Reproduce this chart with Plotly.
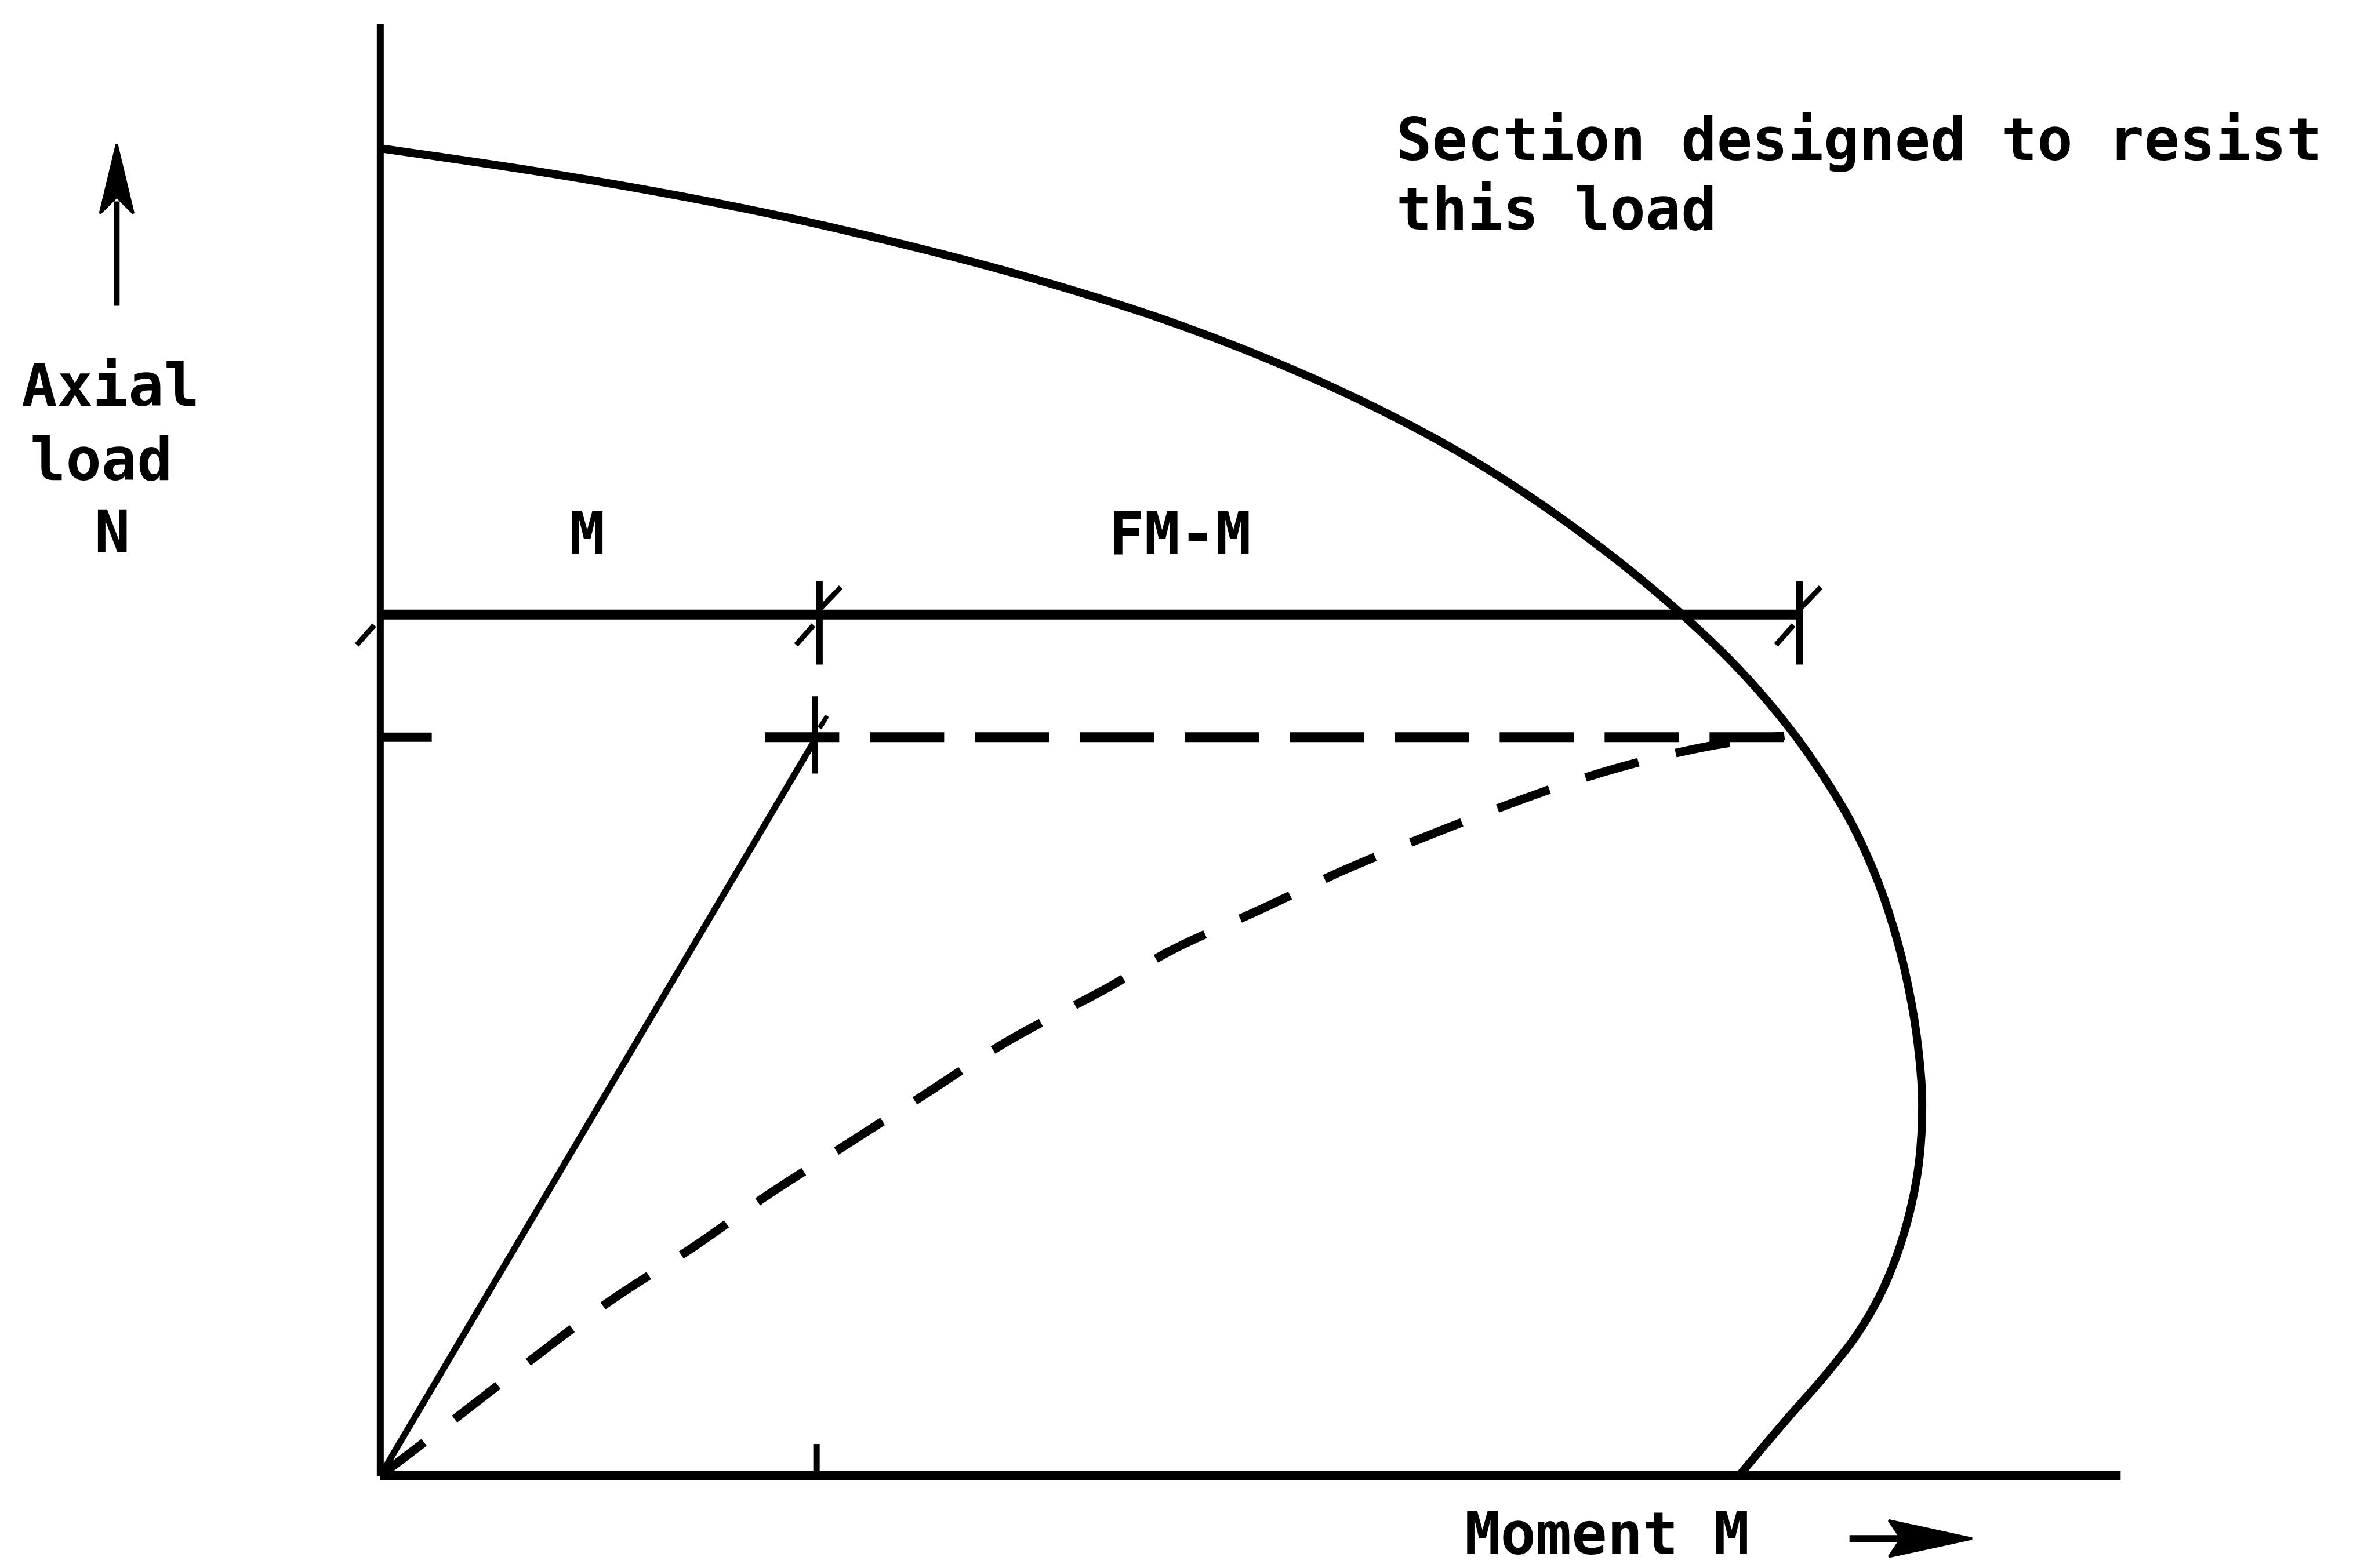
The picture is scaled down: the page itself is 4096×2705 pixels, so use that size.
import plotly.graph_objects as go

# ---------------- data (arbitrary units: M = moment, N = axial load) ----------------
# interaction (failure) curve
curve_M = [0.0, 11.5, 23.2, 31.9, 42.4, 52.3, 61.6, 69.7, 75.6, 81.4, 85.5, 89.6, 92.8,
           95.1, 97.2, 98.9, 100.2, 101.1, 101.6, 101.8, 101.6, 101.0, 100.1, 98.9, 97.4,
           95.2, 93.0, 90.2, 89.7]
curve_N = [87.7, 86.0, 83.9, 82.0, 79.3, 76.2, 72.5, 68.5, 64.9, 60.7, 57.3, 53.4, 49.7,
           46.5, 43.0, 39.2, 35.2, 31.2, 27.7, 24.7, 20.8, 17.5, 14.5, 11.7, 9.2,
           6.4, 3.9, 0.6, 0.0]

# dashed load path curve
path_M = [0.0, 5.1, 9.5, 15.1, 20.8, 25.5, 30.8, 35.8, 41.4, 48.3, 52.0, 58.3, 63.6, 70.2,
          76.8, 81.8, 87.7, 92.7]
path_N = [0.0, 3.9, 7.3, 11.5, 15.2, 18.5, 21.9, 25.1, 28.7, 32.4, 34.6, 37.5, 40.0, 42.7,
          45.2, 46.8, 48.2, 48.9]

design_M = 28.8       # applied moment M
design_N = 48.8       # design axial load
failure_M = 92.7      # moment where load level meets the curve
dashed_start_M = 25.4
stub_end_M = 3.4
dim_N = 56.9          # level of the M / FM-M dimension line
dim_ticks_M = [0.0, 29.0, 93.7]
axis_M_max = 114.9
axis_N_max = 95.9

labels = {"M": (13.65, 62.25), "FM-M": (52.8, 62.25)}

# ---------------- figure ----------------
K = "black"
fig = go.Figure()

def line(x, y, w, dash=None, shape="linear"):
    fig.add_trace(go.Scatter(x=x, y=y, mode="lines", hoverinfo="skip",
                             line=dict(color=K, width=w, dash=dash, shape=shape)))

# axes
line([0, 0], [0, axis_N_max], 12)
line([0, axis_M_max], [0, 0], 16)
# small tick on moment axis at M
line([design_M, design_M], [0, 2.1], 11)

# interaction curve
line(curve_M, curve_N, 14, shape="spline")

# straight load path (solid)
line([0, design_M], [0, design_N], 11)

# dashed curved path
line(path_M, path_N, 15, dash="95px,66px", shape="spline")

# horizontal dashed line at design load
line([0, stub_end_M], [design_N, design_N], 16)
line([dashed_start_M, failure_M], [design_N, design_N], 17, dash="128px,53px")
# cross tick on dashed line
line([design_M - 0.1, design_M - 0.1], [design_N - 2.4, design_N + 2.7], 10)
line([design_M + 0.7, design_M + 0.2], [design_N + 1.4, design_N + 0.6], 8)

# dimension line with ticks
line([0, dim_ticks_M[-1]], [dim_N, dim_N], 17)
for i, t in enumerate(dim_ticks_M):
    if i > 0:
        line([t, t], [dim_N - 3.3, dim_N + 2.2], 11)
        line([t + 1.4, t + 0.15], [dim_N + 1.8, dim_N + 0.5], 9)
    line([t - 1.55, t - 0.4], [dim_N - 2.0, dim_N - 0.7], 9)

# axial-load arrow (up)
ax_x = -17.4
line([ax_x, ax_x], [77.3, 84.2], 10)
fig.add_trace(go.Scatter(x=[ax_x, ax_x - 1.1, ax_x, ax_x + 1.1, ax_x],
                         y=[88.0, 83.4, 84.5, 83.4, 88.0], mode="lines", fill="toself",
                         fillcolor=K, line=dict(color=K, width=4), hoverinfo="skip"))

# moment arrow (right)
ar_y = -4.15
line([97.0, 100.5], [ar_y, ar_y], 12)
fig.add_trace(go.Scatter(x=[105.1, 99.6, 100.4, 99.6, 105.1],
                         y=[ar_y, ar_y + 1.2, ar_y, ar_y - 1.2, ar_y], mode="lines",
                         fill="toself", fillcolor=K, line=dict(color=K, width=4),
                         hoverinfo="skip"))

FONT = dict(family="DejaVu Sans Mono", size=102, color=K, weight="bold")

def text(s, x, y, anchor="center"):
    fig.add_annotation(x=x, y=y, xref="x", yref="y", text=s, showarrow=False,
                       xanchor=anchor, yanchor="middle", font=FONT)

text("Section designed to resist", 67.0, 88.3, "left")
text("this load", 67.0, 83.7, "left")
text("Axial", -17.8, 72.05)
text("load", -18.4, 67.15)
text("N", -17.7, 62.35)
for s, (x, y) in labels.items():
    text(s, x, y)
text("Moment M", 81.0, -3.8)

fig.update_layout(
    width=4096, height=2705,
    margin=dict(l=0, r=0, t=0, b=0),
    paper_bgcolor="white", plot_bgcolor="white",
    showlegend=False,
    xaxis=dict(range=[-24.8, 132.0], visible=False, showgrid=False, zeroline=False),
    yaxis=dict(range=[-6.4, 97.2], visible=False, showgrid=False, zeroline=False),
)

fig.write_html("out.html")
